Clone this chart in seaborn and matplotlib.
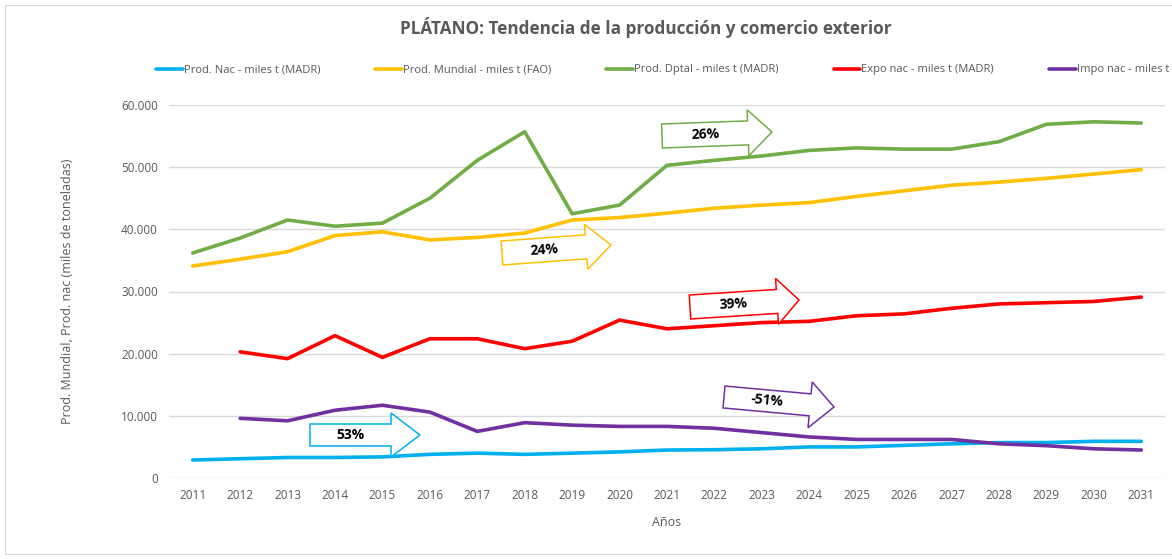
import numpy as np
import pandas as pd
import matplotlib
matplotlib.use("Agg")
import matplotlib.pyplot as plt
from matplotlib.patches import Polygon, Rectangle
from matplotlib.ticker import FuncFormatter
import seaborn as sns

years = list(range(2011, 2032))

prod_nac = [2.9, 3.1, 3.3, 3.3, 3.4, 3.8, 4.0, 3.8, 4.0, 4.2, 4.5,
            4.55, 4.7, 5.0, 5.0, 5.25, 5.5, 5.7, 5.7, 5.9, 5.9]
prod_mundial = [34.1, 35.2, 36.4, 39.0, 39.6, 38.3, 38.7, 39.4, 41.5, 41.9, 42.6,
                43.4, 43.9, 44.3, 45.3, 46.2, 47.1, 47.6, 48.2, 48.9, 49.6]
prod_dptal = [36.2, 38.6, 41.5, 40.5, 41.0, 45.0, 51.1, 55.7, 42.5, 43.9, 50.3,
              51.1, 51.8, 52.7, 53.1, 52.9, 52.9, 54.1, 56.9, 57.3, 57.1]
expo_nac = [np.nan, 20.3, 19.2, 22.9, 19.4, 22.4, 22.4, 20.8, 22.0, 25.4, 24.0,
            24.5, 25.0, 25.2, 26.1, 26.4, 27.3, 28.0, 28.2, 28.4, 29.1]
impo_nac = [np.nan, 9.6, 9.2, 10.9, 11.7, 10.6, 7.5, 8.9, 8.5, 8.3, 8.3,
            8.0, 7.3, 6.6, 6.2, 6.2, 6.2, 5.5, 5.2, 4.7, 4.5]

series_names = ["Prod. Nac - miles t (MADR)", "Prod. Mundial - miles t (FAO)",
                "Prod. Dptal - miles t (MADR)", "Expo nac - miles t (MADR)",
                "Impo nac - miles t (MADR)"]
series_values = [prod_nac, prod_mundial, prod_dptal, expo_nac, impo_nac]
series_colors = ["#00B0F0", "#FFC000", "#70AD47", "#FF0000", "#7030A0"]

# growth labels: text, colour, tail centre (px), tip (px), body height, head height, head length
arrow_labels = ["53%", "24%", "26%", "39%", "-51%"]
arrow_colors = ["#00B0F0", "#FFC000", "#70AD47", "#FF0000", "#7030A0"]
arrow_tails = [(310, 435), (502, 253), (662, 136), (690, 307), (724, 397)]
arrow_tips = [(420, 435), (611, 245), (772, 132), (799, 300), (834, 407)]
arrow_body = [22, 24, 24, 24, 22]
arrow_head = [44, 45, 46, 46, 46]
arrow_headlen = [29, 25, 24, 22, 24]

rows = []
for name, vals in zip(series_names, series_values):
    for y, v in zip(years, vals):
        rows.append({"Año": y, "Serie": name, "Valor": v * 1000})
df = pd.DataFrame(rows)

W, H = 1172, 559
sns.set_theme(style="white")
plt.rcParams["font.family"] = ["Open Sans", "DejaVu Sans"]

fig = plt.figure(figsize=(W / 100, H / 100), dpi=100)
ax = fig.add_axes([169 / W, 1 - 478 / H, (1165 - 169) / W, (478 - 105) / H])

sns.lineplot(data=df, x="Año", y="Valor", hue="Serie", hue_order=series_names,
             palette=series_colors, linewidth=2.6, ax=ax, legend=False)

ax.set_xlim(2010.5, 2031.5)
ax.set_ylim(0, 60000)
ax.set_xticks(years)
ax.set_yticks(range(0, 60001, 10000))
ax.yaxis.set_major_formatter(FuncFormatter(lambda v, p: f"{int(v):,}".replace(",", ".")))
ax.grid(axis="y", color="#D9D9D9", linewidth=1.0)
ax.set_axisbelow(True)
for s in ax.spines.values():
    s.set_visible(False)
ax.tick_params(axis="both", length=0, labelsize=8.5, colors="#595959", pad=8)
ax.set_xlabel("Años", fontsize=9, color="#595959", labelpad=10)
ax.set_ylabel("Prod. Mundial, Prod. nac (miles de toneladas)", fontsize=9,
              color="#595959", labelpad=34)

fig.text(646 / W, 1 - 27 / H, "PLÁTANO: Tendencia de la producción y comercio exterior",
         ha="center", va="center", fontsize=12.3, fontweight="bold", color="#595959")

# legend in one row
handles = [plt.Line2D([], [], color=c, linewidth=2.6) for c in series_colors]
fig.legend(handles, series_names, loc="center left", bbox_to_anchor=(146 / W, 1 - 70 / H),
           ncol=5, frameon=False, fontsize=8, handlelength=2.4, handletextpad=0.1,
           columnspacing=4.95, labelcolor="#595959")

# chart area border
fig.patches.append(Rectangle((5 / W, 5 / H), 1.2, 1 - 10 / H, transform=fig.transFigure,
                             fill=False, edgecolor="#D9D9D9", linewidth=0.8, zorder=0))


def to_fig(px, py):
    return px / W, 1 - py / H


for lab, col, tail, tip, bh, hh, hl in zip(arrow_labels, arrow_colors, arrow_tails,
                                           arrow_tips, arrow_body, arrow_head, arrow_headlen):
    dx, dy = tip[0] - tail[0], tip[1] - tail[1]
    L = np.hypot(dx, dy)
    ux, uy = dx / L, dy / L
    vx, vy = -uy, ux
    local = [(0, -bh / 2), (L - hl, -bh / 2), (L - hl, -hh / 2), (L, 0),
             (L - hl, hh / 2), (L - hl, bh / 2), (0, bh / 2)]
    pts = [to_fig(tail[0] + a * ux + b * vx, tail[1] + a * uy + b * vy) for a, b in local]
    fig.patches.append(Polygon(pts, closed=True, transform=fig.transFigure,
                               facecolor="white", edgecolor=col, linewidth=1.1, zorder=3))
    cx = tail[0] + (L - hl) / 2 * ux
    cy = tail[1] + (L - hl) / 2 * uy
    ang = -np.degrees(np.arctan2(dy, dx))
    fx, fy = to_fig(cx, cy)
    fig.text(fx, fy, lab, ha="center", va="center", rotation=ang, fontsize=10,
             fontweight="bold", color="black", zorder=4, rotation_mode="anchor")

fig.savefig("out.png", dpi=100)
